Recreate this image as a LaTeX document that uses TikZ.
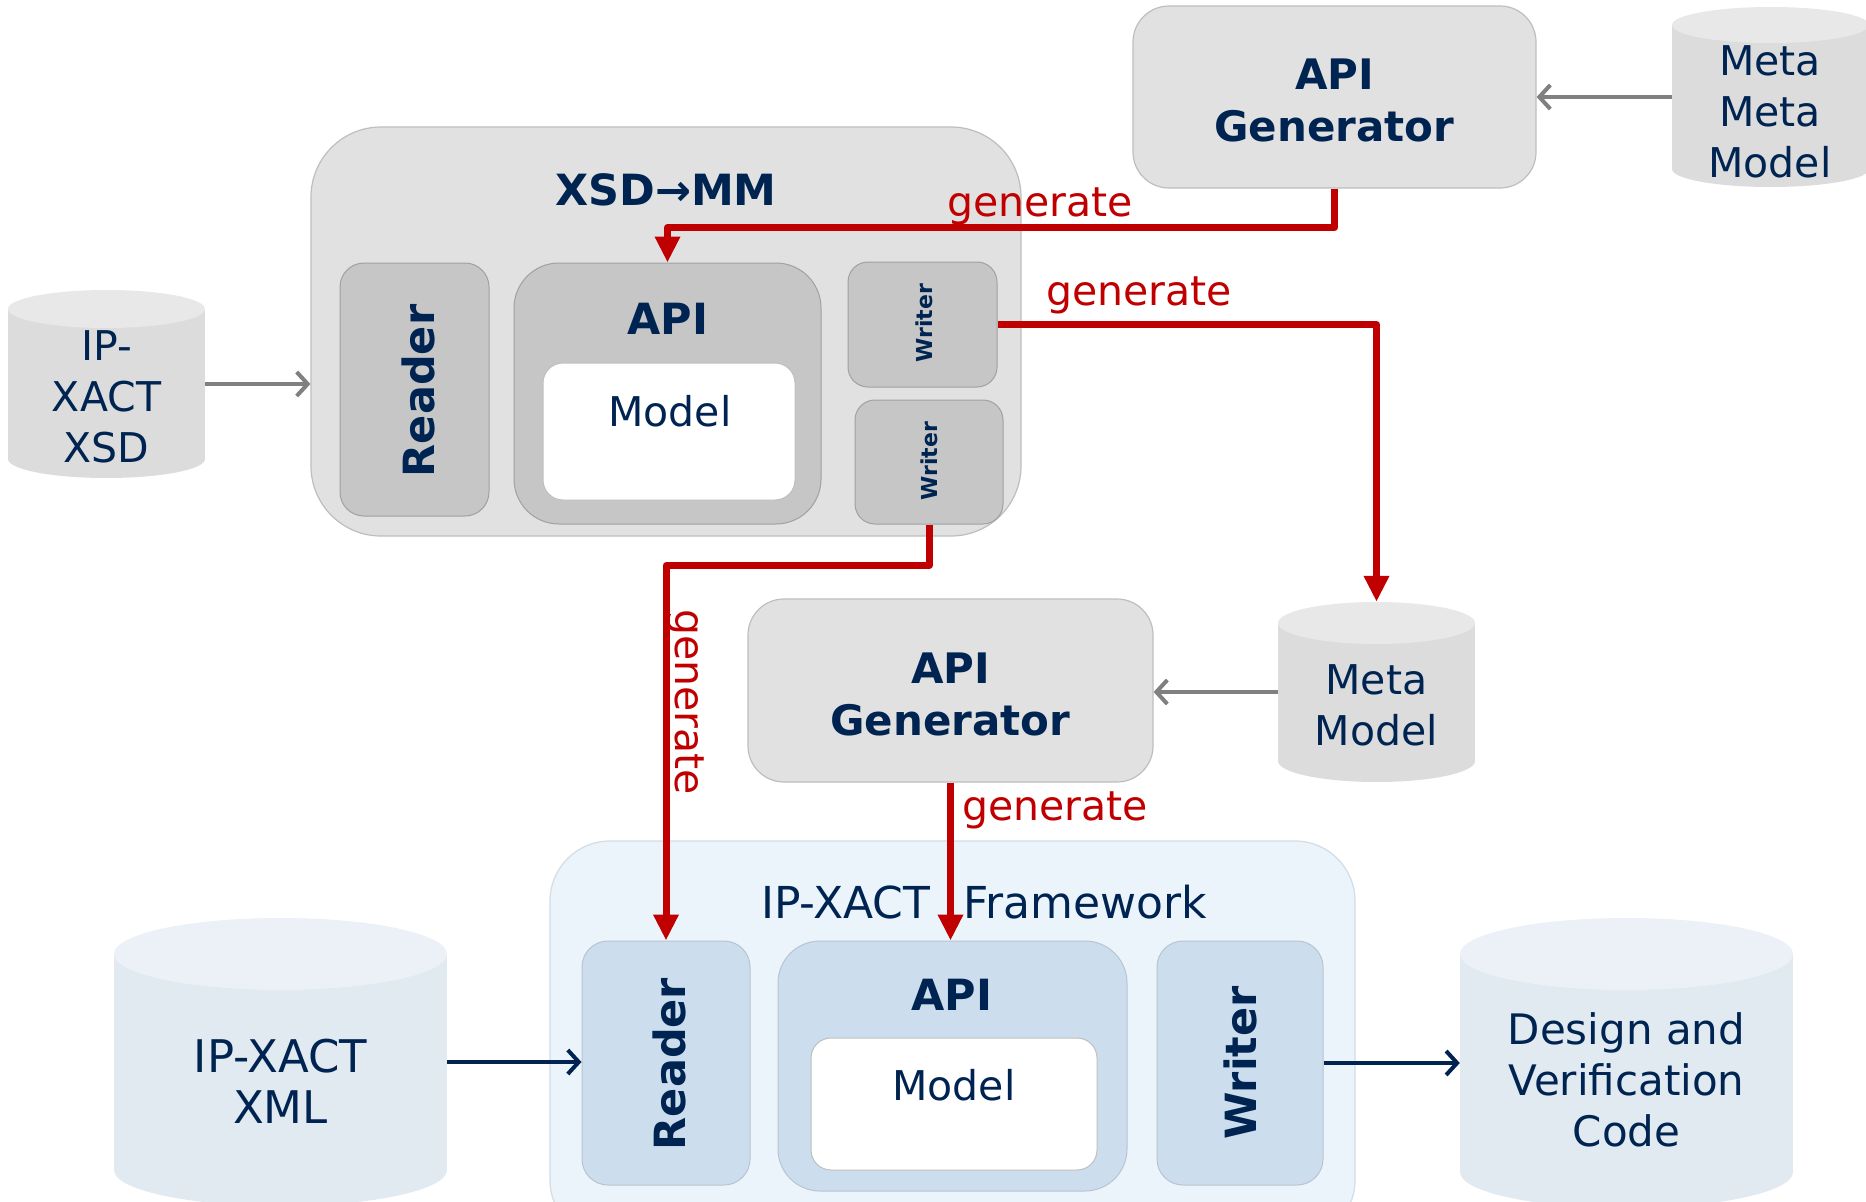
\documentclass[tikz,border=0pt]{standalone}
\usepackage{fontspec}
\setmainfont{DejaVu Sans}
\usetikzlibrary{arrows.meta,fit,calc}

\definecolor{ink}{HTML}{002451}
\definecolor{genred}{HTML}{C00000}
\definecolor{grayouter}{HTML}{E1E1E1}
\definecolor{grayinner}{HTML}{C6C6C6}
\definecolor{grayedge}{HTML}{BEBEBE}
\definecolor{graycylbody}{HTML}{DCDCDC}
\definecolor{graycyltop}{HTML}{E8E8E8}
\definecolor{blueouter}{HTML}{EBF3FB}
\definecolor{blueinner}{HTML}{CCDDED}
\definecolor{blueedge}{HTML}{B9C4D0}
\definecolor{bluecylbody}{HTML}{E1E9F1}
\definecolor{bluecyltop}{HTML}{EBF1F6}
\definecolor{flowgray}{HTML}{808080}

% storage drum: name, left x, right x, top y, bottom y, end radius, colour prefix
\newcommand\drum[7]{%
  \pgfmathsetmacro\dcx{(#2+#3)/2}%
  \pgfmathsetmacro\drx{(#3-#2)/2}%
  \pgfmathsetmacro\dtop{#4+#6}%
  \pgfmathsetmacro\dbot{#5-#6}%
  \fill[#7body] (#2,\dtop) rectangle (#3,\dbot);
  \fill[#7body] (\dcx,\dbot) ellipse[x radius=\drx pt, y radius=#6pt];
  \fill[#7top] (\dcx,\dtop) ellipse[x radius=\drx pt, y radius=#6pt];
  \node[fit={(#2,#4)(#3,#5)}, inner sep=0pt] (#1) {};
}

\begin{document}
\begin{tikzpicture}[x=1pt,y=-1pt,
  panel/.style={draw=grayedge, fill=grayouter, line width=1.2pt, inner sep=0pt},
  slot/.style={draw=grayedge!85!black, fill=grayinner, line width=1pt, inner sep=0pt},
  bpanel/.style={draw=blueedge!60, fill=blueouter, line width=1.2pt, inner sep=0pt},
  bslot/.style={draw=blueedge, fill=blueinner, line width=1pt, inner sep=0pt},
  whitebox/.style={draw=black!25, fill=white, line width=1pt, inner sep=0pt},
  lbl/.style={text=ink, font=\fontsize{41}{51}\selectfont, align=center, inner sep=0pt},
  blbl/.style={text=ink, font=\fontsize{43}{52}\selectfont\bfseries, align=center, inner sep=0pt},
  genfont/.style={text=ink, font=\fontsize{42}{52}\selectfont\bfseries, align=center, inner sep=0pt},
  smallbold/.style={text=ink, font=\fontsize{22}{26}\selectfont\bfseries, inner sep=0pt},
  genlbl/.style={text=genred, font=\fontsize{41}{50}\selectfont, inner sep=0pt},
  redflow/.style={draw=genred, line width=7pt, line join=round,
    -{Triangle[width=24pt,length=26pt]}},
  grayflow/.style={draw=flowgray, line width=4pt,
    -{Straight Barb[length=11pt,width=24pt]}},
  navyflow/.style={draw=ink, line width=4pt,
    -{Straight Barb[length=11pt,width=24pt]}}
]
\useasboundingbox (0,0) rectangle (1866,1202);
\clip (0,0) rectangle (1866,1202);
\fill[white] (0,0) rectangle (1866,1202);

% ---- storage drums ----
\drum{cylXSD}{8}{205}{290}{478}{19}{graycyl}
\node[lbl] (cylXSDtxt) at (106.5,397) {IP-\\XACT\\XSD};
\drum{cylMMM}{1672}{1869}{7}{187}{18}{graycyl}
\node[lbl] (cylMMMtxt) at (1770,112) {Meta\\Meta\\Model};
\drum{cylMM}{1278}{1475}{602}{782}{21}{graycyl}
\node[lbl] (cylMMtxt) at (1376.5,705) {Meta\\Model};
\drum{cylXML}{114}{447}{918}{1206}{36}{bluecyl}
\node[lbl, font=\fontsize{45}{51}\selectfont] (cylXMLtxt) at (280.5,1081) {IP-XACT\\XML};
\drum{cylDVC}{1460}{1793}{918}{1208}{36}{bluecyl}
\node[lbl, font=\fontsize{42}{51}\selectfont] (cylDVCtxt) at (1626.5,1080) {Design and\\Verification\\Code};

% ---- API generators ----
\node[panel, minimum width=403pt, minimum height=182pt, rounded corners=36pt]
  (genTop) at (1334.5,97) {};
\node[genfont] (genTopTxt) at (1334.5,100) {API\\Generator};
\node[panel, minimum width=405pt, minimum height=183pt, rounded corners=36pt]
  (genLow) at (950.5,690.5) {};
\node[genfont] (genLowTxt) at (950.5,694) {API\\Generator};

% ---- XSD to meta model converter ----
\node[panel, rounded corners=70pt, minimum width=710pt, minimum height=409pt]
  (xsd) at (666,331.5) {};
\node[blbl] (xsdTitle) at (666,190) {XSD→MM};
\node[slot, rounded corners=24pt, minimum width=149pt, minimum height=253pt]
  (rdA) at (414.5,389.5) {};
\node[blbl, rotate=90] (rdAtxt) at (418,391) {Reader};
\node[slot, rounded corners=45pt, minimum width=307pt, minimum height=261pt]
  (apiA) at (667.5,393.5) {};
\node[blbl] (apiAtxt) at (668,319) {API};
\node[whitebox, rounded corners=20pt, minimum width=252pt, minimum height=137pt]
  (mdlA) at (669,431.5) {};
\node[lbl] (mdlAtxt) at (670,411) {Model};
\node[slot, rounded corners=20pt, minimum width=149pt, minimum height=125pt]
  (wrA1) at (922.5,324.5) {};
\node[smallbold, rotate=90] (wrA1txt) at (924,323) {Writer};
\node[slot, rounded corners=20pt, minimum width=148pt, minimum height=124pt]
  (wrA2) at (929,462) {};
\node[smallbold, rotate=90] (wrA2txt) at (929,461) {Writer};

% ---- IP-XACT framework ----
\node[bpanel, rounded corners=60pt, minimum width=805pt, minimum height=399pt]
  (fw) at (952.5,1040.5) {};
\node[lbl, font=\fontsize{44}{51}\selectfont] (fwTitle) at (984,902) {IP-XACT\hspace{33pt}Framework};
\node[bslot, rounded corners=26pt, minimum width=168pt, minimum height=244pt]
  (rdB) at (666,1063) {};
\node[blbl, rotate=90] (rdBtxt) at (669,1064) {Reader};
\node[bslot, rounded corners=42pt, minimum width=349pt, minimum height=250pt]
  (apiB) at (952.5,1066) {};
\node[blbl] (apiBtxt) at (952,995) {API};
\node[whitebox, rounded corners=20pt, minimum width=286pt, minimum height=132pt]
  (mdlB) at (954,1104) {};
\node[lbl] (mdlBtxt) at (954,1085) {Model};
\node[bslot, rounded corners=26pt, minimum width=166pt, minimum height=244pt]
  (wrB) at (1240,1063) {};
\node[blbl, rotate=90] (wrBtxt) at (1240,1063) {Writer};

% ---- data flow ----
\draw[grayflow] (cylXSD.east) -- (cylXSD.east -| xsd.west);
\draw[grayflow] (cylMMM.west) -- (cylMMM.west -| genTop.east);
\draw[grayflow] (cylMM.west) -- (cylMM.west -| genLow.east);
\draw[navyflow] (cylXML.east) -- (cylXML.east -| rdB.west);
\draw[navyflow] (wrB.east) -- (wrB.east -| cylDVC.west);

% ---- generation steps ----
\draw[redflow] (genTop.south) -- ++(0,39) -| (apiA.north);
\draw[redflow] (wrA1.east) -| (cylMM.north);
\draw[redflow] (wrA2.south) -- ++(0,41) -| (rdB.north);
\draw[redflow] (genLow.south) -- (genLow.south |- apiB.north);

\node[genlbl] (gen1) at (1040,206) {generate};
\node[genlbl] (gen2) at (1139,295) {generate};
\node[genlbl, rotate=-90] (gen3) at (686,702) {generate};
\node[genlbl] (gen4) at (1055,810) {generate};
\end{tikzpicture}
\end{document}
